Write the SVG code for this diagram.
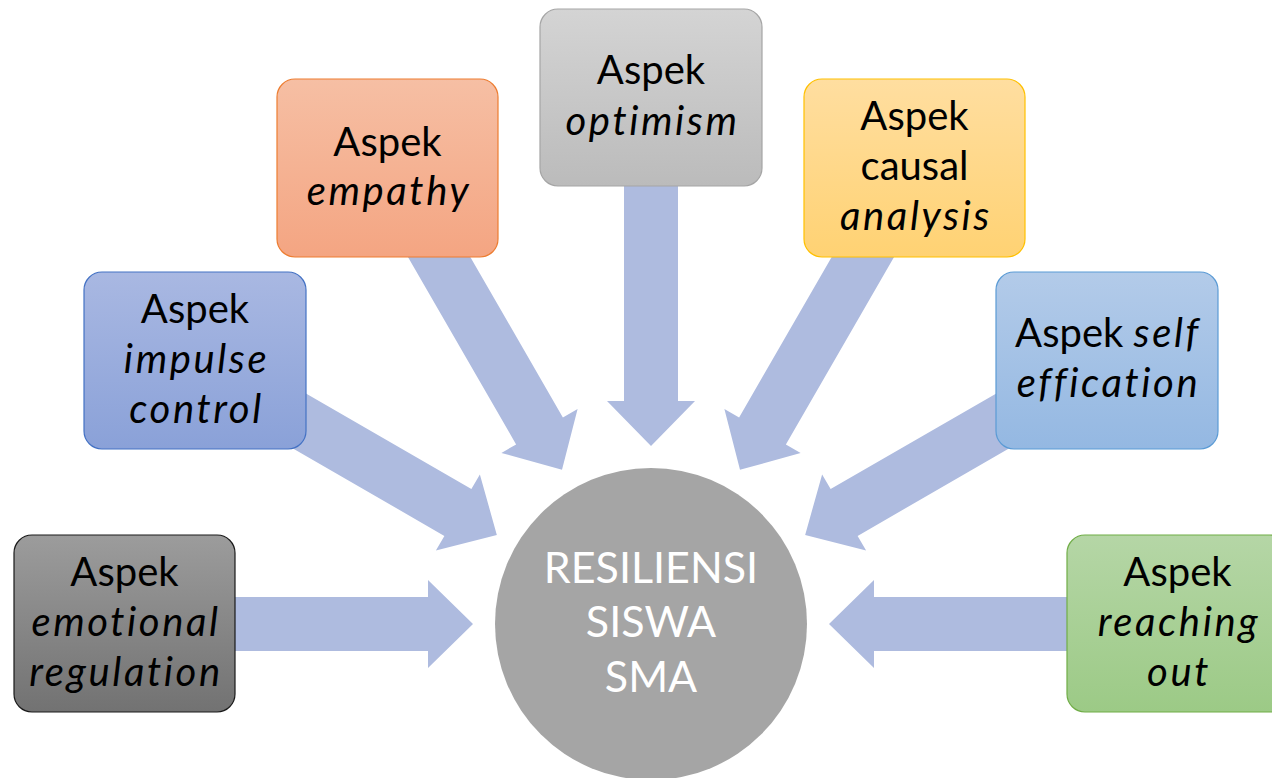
<svg xmlns="http://www.w3.org/2000/svg" width="1272" height="778" viewBox="0 0 1272 778">
  <style>
    .arrow { fill: #aebbdf; }
    .box { stroke-width: 1.2; }
    .lbl { font-family: Lato, "Open Sans", "Liberation Sans", sans-serif; font-size: 40px; fill: #000; text-anchor: middle; }
    .it { font-style: italic; letter-spacing: 2.6px; }
    .hub { font-family: Lato, "Open Sans", "Liberation Sans", sans-serif; font-size: 43px; fill: #fff; text-anchor: middle; }
  </style>
  <defs>
    <!-- block arrow pointing at the hub from the left; rotated about the hub centre for the others -->
    <path id="blockArrow" d="M191,597 H428 V580 L473,624 L428,668 V651 H191 Z"/>
    <linearGradient id="gDark" x1="0" y1="0" x2="0" y2="1">
      <stop offset="0" stop-color="#9c9c9c"/><stop offset="1" stop-color="#727272"/>
    </linearGradient>
    <linearGradient id="gBlue" x1="0" y1="0" x2="0" y2="1">
      <stop offset="0" stop-color="#a9b8e2"/><stop offset="1" stop-color="#8aa1d8"/>
    </linearGradient>
    <linearGradient id="gOrange" x1="0" y1="0" x2="0" y2="1">
      <stop offset="0" stop-color="#f6bfa4"/><stop offset="1" stop-color="#f4a582"/>
    </linearGradient>
    <linearGradient id="gGray" x1="0" y1="0" x2="0" y2="1">
      <stop offset="0" stop-color="#d4d4d4"/><stop offset="1" stop-color="#bbbbbb"/>
    </linearGradient>
    <linearGradient id="gGold" x1="0" y1="0" x2="0" y2="1">
      <stop offset="0" stop-color="#ffdea0"/><stop offset="1" stop-color="#ffd273"/>
    </linearGradient>
    <linearGradient id="gSky" x1="0" y1="0" x2="0" y2="1">
      <stop offset="0" stop-color="#b3cbe9"/><stop offset="1" stop-color="#94b8e2"/>
    </linearGradient>
    <linearGradient id="gGreen" x1="0" y1="0" x2="0" y2="1">
      <stop offset="0" stop-color="#b5d6a6"/><stop offset="1" stop-color="#9cca86"/>
    </linearGradient>
  </defs>

  <rect width="1272" height="778" fill="#fff"/>

  <g id="connectors" class="arrow">
    <use href="#blockArrow"/>
    <use href="#blockArrow" transform="rotate(30 651 624)"/>
    <use href="#blockArrow" transform="rotate(60 651 624)"/>
    <use href="#blockArrow" transform="rotate(90 651 624)"/>
    <use href="#blockArrow" transform="rotate(120 651 624)"/>
    <use href="#blockArrow" transform="rotate(150 651 624)"/>
    <use href="#blockArrow" transform="rotate(180 651 624)"/>
  </g>

  <g id="hub">
    <circle cx="651" cy="624" r="156" fill="#a5a5a5"/>
    <text class="hub" x="651" y="583">RESILIENSI</text>
    <text class="hub" x="651" y="637">SISWA</text>
    <text class="hub" x="651" y="692">SMA</text>
  </g>

  <g id="emotional-regulation">
    <rect class="box" x="14" y="535" width="221" height="177" rx="18" fill="url(#gDark)" stroke="#1a1a1a"/>
    <text class="lbl" x="124.5" y="586">Aspek</text>
    <text class="lbl it" x="126" y="636">emotional</text>
    <text class="lbl it" x="126" y="686">regulation</text>
  </g>

  <g id="impulse-control">
    <rect class="box" x="84" y="272" width="222" height="177" rx="18" fill="url(#gBlue)" stroke="#4472c4"/>
    <text class="lbl" x="195" y="323">Aspek</text>
    <text class="lbl it" x="196.5" y="373">impulse</text>
    <text class="lbl it" x="196.5" y="423">control</text>
  </g>

  <g id="empathy">
    <rect class="box" x="277" y="79" width="221" height="178" rx="18" fill="url(#gOrange)" stroke="#ed7d31"/>
    <text class="lbl" x="387.5" y="156">Aspek</text>
    <text class="lbl it" x="389" y="205">empathy</text>
  </g>

  <g id="optimism">
    <rect class="box" x="540" y="9" width="222" height="177" rx="18" fill="url(#gGray)" stroke="#a5a5a5"/>
    <text class="lbl" x="651" y="84">Aspek</text>
    <text class="lbl it" x="652.5" y="135">optimism</text>
  </g>

  <g id="causal-analysis">
    <rect class="box" x="804" y="79" width="221" height="178" rx="18" fill="url(#gGold)" stroke="#ffc000"/>
    <text class="lbl" x="914.5" y="130">Aspek</text>
    <text class="lbl" x="914.5" y="180">causal</text>
    <text class="lbl it" x="916" y="230">analysis</text>
  </g>

  <g id="self-efficacy">
    <rect class="box" x="996" y="272" width="222" height="177" rx="18" fill="url(#gSky)" stroke="#5b9bd5"/>
    <text class="lbl" x="1108" y="347">Aspek <tspan class="it">self</tspan></text>
    <text class="lbl it" x="1108.5" y="397">effication</text>
  </g>

  <g id="reaching-out">
    <rect class="box" x="1067" y="535" width="221" height="177" rx="18" fill="url(#gGreen)" stroke="#70ad47"/>
    <text class="lbl" x="1177.5" y="586">Aspek</text>
    <text class="lbl it" x="1179" y="636">reaching</text>
    <text class="lbl it" x="1179" y="686">out</text>
  </g>
</svg>
